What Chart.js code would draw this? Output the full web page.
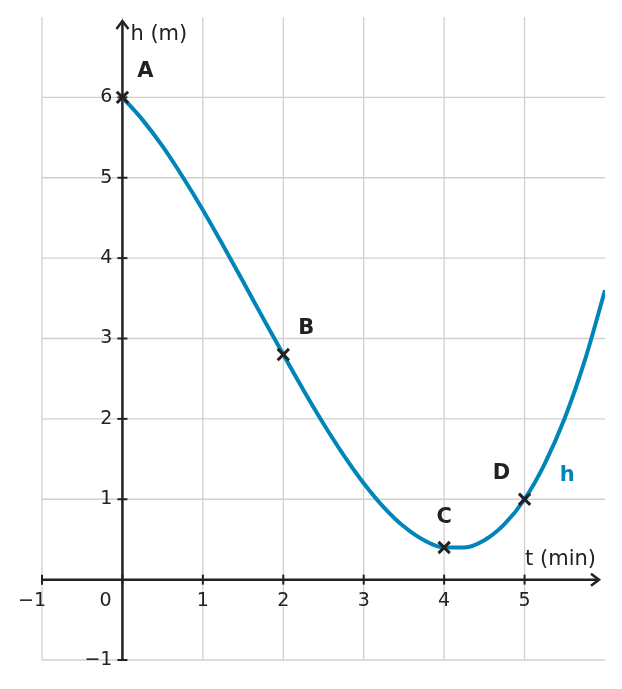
<!DOCTYPE html>
<html><head><meta charset="utf-8">
<script src="https://cdn.jsdelivr.net/npm/chart.js@4"></script>
<style>body{margin:0;background:#fff}#w{width:622px;height:689px}</style>
</head><body><div id="w"><canvas id="c"></canvas></div>
<script>
const tValues=[0,0.25,0.5,0.75,1,1.25,1.5,1.75,2,2.25,2.5,2.75,3,3.25,3.5,3.75,4,4.25,4.5,4.75,5,5.25,5.5,5.75,6];
const hValues=[6,5.72,5.39,5.01,4.6,4.16,3.71,3.25,2.8,2.36,1.94,1.55,1.2,0.9,0.66,0.49,0.4,0.4,0.49,0.69,1,1.44,2.01,2.73,3.6];
const pointNames=['A','B','C','D'];
const pointT=[0,2,4,5];
const pointH=[6,2.8,0.4,1];
const xTicks=[-1,0,1,2,3,4,5];
const yTicks=[-1,1,2,3,4,5,6];
const BLUE='#0085b8',DARK='#222';
const F='"DejaVu Sans", sans-serif';
const overlay={id:'ov',
beforeDatasetsDraw(ch){const c=ch.ctx,x=ch.scales.x,y=ch.scales.y,a=ch.chartArea;
 c.save();c.strokeStyle='#d0d0d0';c.lineWidth=1.3;
 for(let v=-1;v<=5;v++){const p=x.getPixelForValue(v);c.beginPath();c.moveTo(p,a.top);c.lineTo(p,a.bottom);c.stroke();}
 for(let v=-1;v<=6;v++){if(v===0)continue;const p=y.getPixelForValue(v);c.beginPath();c.moveTo(a.left,p);c.lineTo(a.right,p);c.stroke();}
 const x0=x.getPixelForValue(0),y0=y.getPixelForValue(0);
 c.strokeStyle=DARK;c.lineWidth=2.5;
 c.beginPath();c.moveTo(a.left,y0);c.lineTo(a.right-6,y0);c.stroke();
 c.beginPath();c.moveTo(a.right-14,y0-6);c.lineTo(a.right-6,y0);c.lineTo(a.right-14,y0+6);c.stroke();
 c.beginPath();c.moveTo(x0,a.bottom);c.lineTo(x0,a.top+4);c.stroke();
 c.beginPath();c.moveTo(x0-6,a.top+12);c.lineTo(x0,a.top+4);c.lineTo(x0+6,a.top+12);c.stroke();
 c.lineWidth=2;
 c.font='19px '+F;c.fillStyle=DARK;c.textAlign='center';c.textBaseline='middle';
 xTicks.forEach(v=>{const p=x.getPixelForValue(v);c.beginPath();c.moveTo(p,y0-5);c.lineTo(p,y0+5);c.stroke();
  let lx=p;if(v===-1)lx=p-10;if(v===0)lx=p-17;c.fillText(v<0?'\u2212'+(-v):String(v),lx,y0+21);});
 c.textAlign='right';
 yTicks.forEach(v=>{const p=y.getPixelForValue(v);c.beginPath();c.moveTo(x0-5,p);c.lineTo(x0+5,p);c.stroke();
  c.fillText(v<0?'\u2212'+(-v):String(v),x0-10,p);});
 c.textAlign='left';c.font='21px '+F;
 c.fillText('h (m)',x0+8,a.top+18);
 c.textAlign='right';c.fillText('t (min)',a.right-9,y0-20);
 c.restore();},
afterDatasetsDraw(ch){const c=ch.ctx,x=ch.scales.x,y=ch.scales.y;c.save();
 c.font='bold 21px '+F;c.fillStyle=DARK;c.textAlign='center';c.textBaseline='middle';
 const off=[[23,-26],[23,-26],[0,-30],[-23,-26]];
 pointT.forEach((t,i)=>c.fillText(pointNames[i],x.getPixelForValue(t)+off[i][0],y.getPixelForValue(pointH[i])+off[i][1]));
 c.fillStyle=BLUE;c.fillText('h',x.getPixelForValue(5.53),y.getPixelForValue(1.3));
 c.restore();}};
new Chart(document.getElementById('c'),{type:'scatter',
data:{datasets:[
 {data:pointT.map((t,i)=>({x:t,y:pointH[i]})),pointStyle:'crossRot',radius:8,borderColor:DARK,borderWidth:3,showLine:false},
 {data:tValues.map((t,i)=>({x:t,y:hValues[i]})),showLine:true,borderColor:BLUE,borderWidth:4,pointRadius:0,cubicInterpolationMode:'monotone'}]},
options:{responsive:true,maintainAspectRatio:false,animation:false,
 layout:{padding:{left:42,right:17,top:17,bottom:29}},
 plugins:{legend:{display:false},tooltip:{enabled:false}},
 scales:{x:{type:'linear',min:-1,max:6,display:false},y:{min:-1,max:7,display:false}}},
plugins:[overlay]});
</script></body></html>
